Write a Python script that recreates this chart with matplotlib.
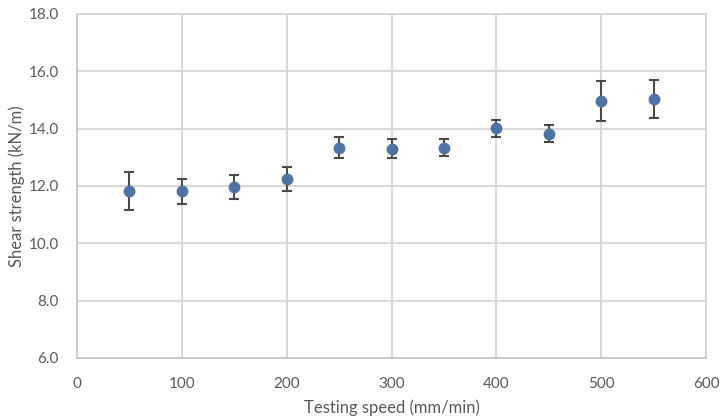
import matplotlib
matplotlib.use("Agg")
import matplotlib.pyplot as plt

speed = [50, 100, 150, 200, 250, 300, 350, 400, 450, 500, 550]
strength = [11.83, 11.81, 11.97, 12.25, 13.34, 13.30, 13.34, 14.01, 13.83, 14.97, 15.03]
err = [0.66, 0.45, 0.43, 0.42, 0.36, 0.34, 0.30, 0.29, 0.31, 0.69, 0.67]
xticks = [0, 100, 200, 300, 400, 500, 600]
yticks = [6, 8, 10, 12, 14, 16, 18]

plt.rcParams['font.family'] = ['Lato', 'DejaVu Sans']
text_c = '#595959'
grid_c = '#d6d1ce'

fig = plt.figure(figsize=(7.2, 4.19), dpi=100)
ax = fig.add_axes([0.107, 0.1456, 0.8736, 0.821])
ax.errorbar(speed, strength, yerr=err, fmt='o', color='#4f74a3', markersize=7.5,
            ecolor='#4a4a4a', elinewidth=1.5, capsize=3.5, capthick=1.5, zorder=3)
ax.set_xlim(0, 600)
ax.set_ylim(6, 18)
ax.set_xticks(xticks)
ax.set_yticks(yticks)
ax.set_yticklabels([f"{v:.1f}" for v in yticks])
ax.grid(True, color=grid_c, linewidth=1.2, zorder=0)
ax.set_axisbelow(True)
for s in ax.spines.values():
    s.set_color(grid_c)
    s.set_linewidth(1.2)
ax.spines['left'].set_color('#c8c2bf')
ax.spines['bottom'].set_color('#c8c2bf')
ax.tick_params(axis='y', length=0, labelsize=11, labelcolor=text_c, pad=13)
ax.tick_params(axis='x', length=0, labelsize=11, labelcolor=text_c, pad=14)
ax.set_xlabel('Testing speed (mm/min)', fontsize=12, color=text_c, labelpad=6)
ax.set_ylabel('Shear strength (kN/m)', fontsize=12, color=text_c, labelpad=3)
fig.savefig('out.png', dpi=100)
